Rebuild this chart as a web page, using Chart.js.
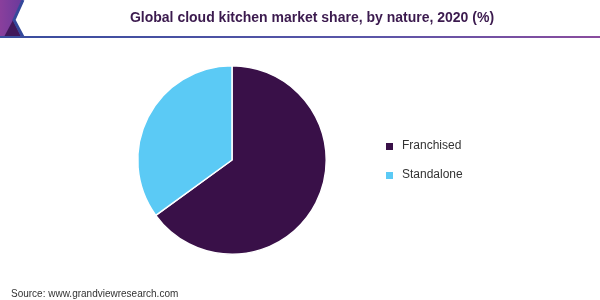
<!DOCTYPE html>
<html>
<head>
<meta charset="utf-8">
<script src="https://cdn.jsdelivr.net/npm/chart.js@4"></script>
<style>
  html, body { margin: 0; padding: 0; background: #fff; }
  #wrap { position: relative; width: 600px; height: 300px; }
</style>
</head>
<body>
<div id="wrap"><canvas id="pieChart" width="600" height="300"></canvas></div>
<script>
// chart data
const categories = ['Franchised', 'Standalone'];
const shares = [65, 35];
const sliceColors = ['#391048', '#5bcaf5'];

const chartTitle = 'Global cloud kitchen market share, by nature, 2020 (%)';
const sourceText = 'Source: www.grandviewresearch.com';

// header, legend and source drawn around the pie
const decorations = {
    id: 'decorations',
    beforeDraw(chart) {
        const c = chart.ctx;
        c.save();
        // logo chevron
        let g = c.createLinearGradient(0, 0, 22, 0);
        g.addColorStop(0, '#8a3f9c');
        g.addColorStop(1, '#6a3a9c');
        c.fillStyle = g;
        c.beginPath();
        c.moveTo(0, 0); c.lineTo(22, 0); c.lineTo(13, 20); c.lineTo(22, 37); c.lineTo(0, 37);
        c.closePath(); c.fill();
        c.fillStyle = '#40175a';
        c.beginPath();
        c.moveTo(13, 20); c.lineTo(21, 37); c.lineTo(4, 37);
        c.closePath(); c.fill();
        c.strokeStyle = '#34489a';
        c.lineWidth = 3;
        c.beginPath();
        c.moveTo(23, 0); c.lineTo(14, 20); c.lineTo(23, 37);
        c.stroke();
        // header rule
        g = c.createLinearGradient(20, 0, 600, 0);
        g.addColorStop(0, '#3a4d9e');
        g.addColorStop(0.6, '#5a56a8');
        g.addColorStop(1, '#8a4c9e');
        c.fillStyle = g;
        c.fillRect(0, 36, 600, 2);
        // title
        c.fillStyle = '#3b1a4e';
        c.font = 'bold 14px "Liberation Sans", Arial, sans-serif';
        c.textAlign = 'center';
        c.textBaseline = 'middle';
        c.fillText(chartTitle, 312, 18);
        // legend
        c.font = '12px "Liberation Sans", Arial, sans-serif';
        c.textAlign = 'left';
        categories.forEach((name, i) => {
            const y = 146 + i * 29;
            c.fillStyle = sliceColors[i];
            c.fillRect(386, y - 3, 7, 7);
            c.fillStyle = '#333';
            c.fillText(name, 402, y);
        });
        // source
        c.font = '10px "Liberation Sans", Arial, sans-serif';
        c.fillStyle = '#333';
        c.fillText(sourceText, 11, 294);
        c.restore();
    }
};

const ctx = document.getElementById('pieChart').getContext('2d');
const pieChart = new Chart(ctx, {
    type: 'pie',
    data: {
        labels: categories,
        datasets: [{
            data: shares,
            backgroundColor: sliceColors,
            borderColor: '#ffffff',
            borderWidth: 1.5,
            hoverOffset: 0
        }]
    },
    options: {
        responsive: false,
        animation: false,
        layout: { padding: { left: 137, right: 273, top: 65, bottom: 45 } },
        plugins: {
            legend: { display: false },
            tooltip: { enabled: false }
        }
    },
    plugins: [decorations]
});
</script>
</body>
</html>
